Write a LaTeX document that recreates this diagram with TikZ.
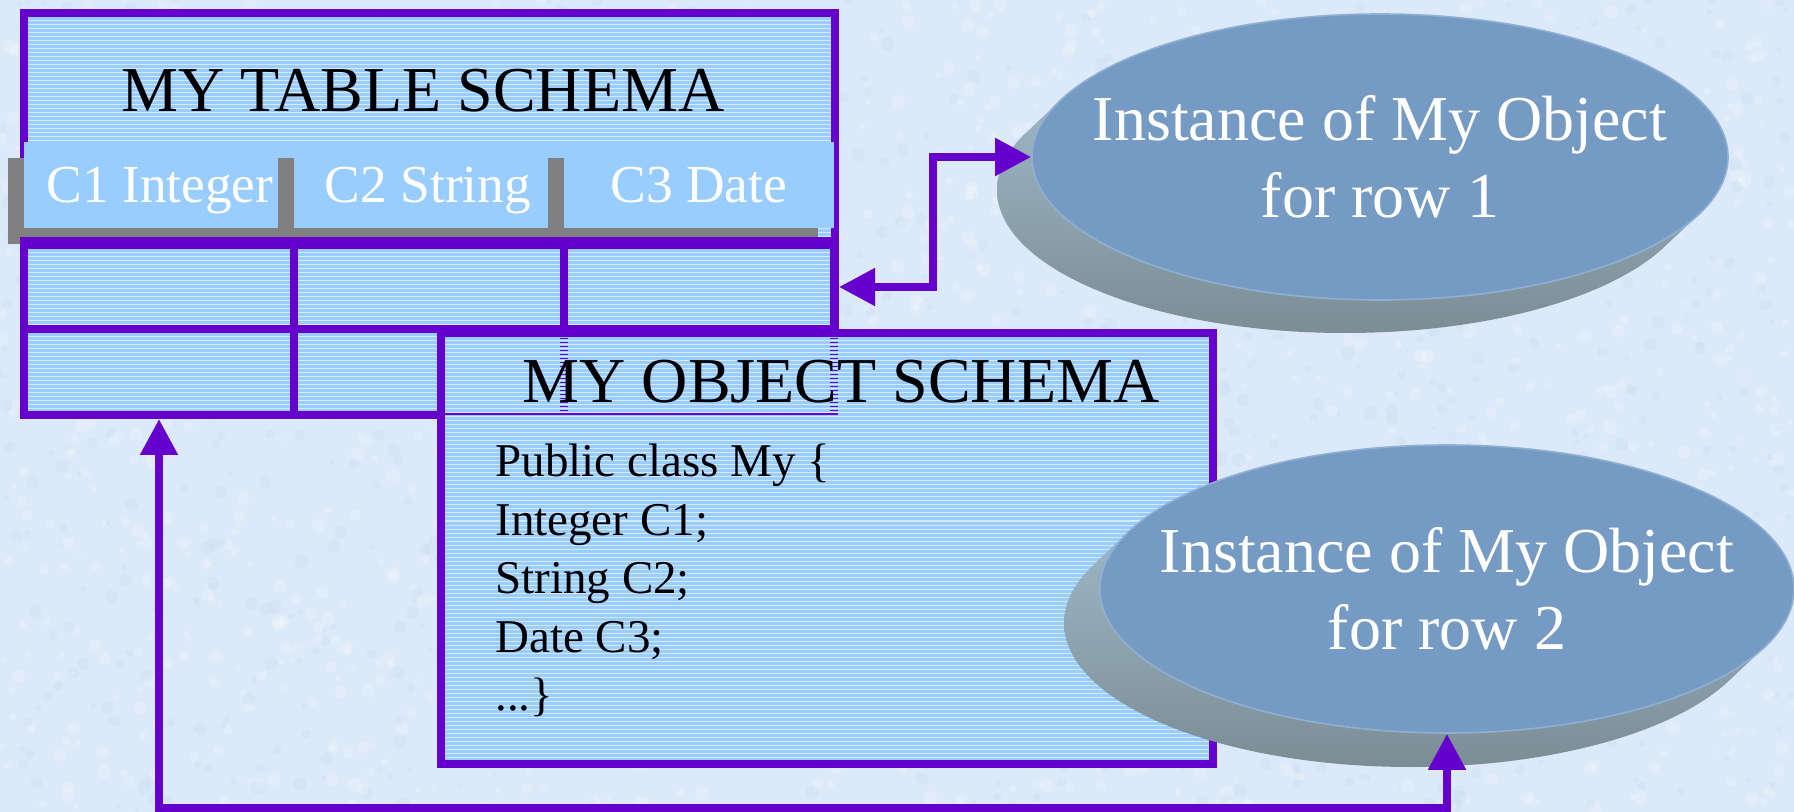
\documentclass[tikz,border=0pt]{standalone}
\usepackage{fontspec}
\setmainfont{Liberation Serif}
\usetikzlibrary{arrows.meta,shapes.geometric,shadows}

\definecolor{schemapurple}{HTML}{6600CC}
\definecolor{cellblue}{HTML}{99CCFF}
\definecolor{shadowgray}{HTML}{808080}
\definecolor{paper}{HTML}{DCE9F8}
\definecolor{paperdark}{HTML}{C2DAF3}
\definecolor{disctop}{HTML}{759AC4}
\definecolor{discrim}{HTML}{8FB0D3}
\definecolor{sidelight}{HTML}{AAC6D7}
\definecolor{sidedark}{HTML}{7B8D95}

\tikzset{
  stripes/.style={path picture={
    \foreach \k in {1,...,115}
      \draw[white, line width=0.5pt, opacity=0.6]
        ([yshift={-2pt*\k}]path picture bounding box.north west) --
        ([yshift={-2pt*\k}]path picture bounding box.north east);}},
  schemabox/.style={rectangle, draw=schemapurple, line width=4pt,
    fill=cellblue, stripes, inner sep=0pt},
  gridcell/.style={rectangle, draw=schemapurple, line width=4pt,
    inner sep=0pt, minimum width=135pt},
  hdrcell/.style={rectangle, fill=cellblue, inner sep=0pt, minimum height=43pt,
    drop shadow={shadow xshift=-8pt, shadow yshift=-8pt,
      fill=shadowgray, opacity=1}},
  hdrtext/.style={anchor=base, inner sep=0pt, text=white,
    font=\fontsize{26.7}{32}\selectfont},
  titletext/.style={anchor=base, inner sep=0pt, font=\fontsize{32}{38}\selectfont},
  codeline/.style={anchor=base west, inner sep=0pt, font=\fontsize{23.5}{28}\selectfont},
  disc/.style={ellipse, fill=disctop, draw=discrim, line width=0.8pt, inner sep=0pt},
  disctext/.style={align=center, text=white, inner sep=0pt,
    font=\fontsize{32}{38.5}\selectfont},
  discside/.style={top color=sidelight, middle color=sidelight!75!sidedark,
    bottom color=sidedark},
  conn/.style={draw=schemapurple, line width=4pt,
    arrows={Triangle[length=18pt,width=18pt]-Triangle[length=18pt,width=18pt]}},
}

\begin{document}
\begin{tikzpicture}[x=0.5pt, y=-0.5pt]
\useasboundingbox (0,0) rectangle (1794,812);

% paper background with a soft mottled texture
\begin{scope}
  \clip (0,0) rectangle (1794,812);
  \fill[paper] (0,0) rectangle (1794,812);
  \pgfmathsetseed{42}
  \foreach \i in {1,...,1500} {
    \pgfmathsetmacro\bx{1794*rnd}
    \pgfmathsetmacro\by{812*rnd}
    \pgfmathsetmacro\br{1+2.5*rnd}
    \fill[white, opacity=0.22] (\bx,\by) circle (\br pt);
  }
  \foreach \i in {1,...,1000} {
    \pgfmathsetmacro\bx{1794*rnd}
    \pgfmathsetmacro\by{812*rnd}
    \pgfmathsetmacro\br{1+2.5*rnd}
    \fill[paperdark, opacity=0.25] (\bx,\by) circle (\br pt);
  }
\end{scope}

% table schema
\node[schemabox, minimum width=405.5pt, minimum height=201pt] (table) at (429.5,214) {};
\node[gridcell, minimum height=42pt] (r1c1) at (159,287) {};
\node[gridcell, minimum height=42pt] (r1c2) at (429,287) {};
\node[gridcell, minimum height=42pt] (r1c3) at (699,287) {};
\node[gridcell, minimum height=43pt] (r2c1) at (159,372) {};
\node[gridcell, minimum height=43pt] (r2c2) at (429,372) {};
\node[gridcell, minimum height=43pt] (r2c3) at (699,372) {};

\node[titletext] (tabletitle) at (423,112) {MY TABLE SCHEMA};

% column header band with shadowed cells
\fill[shadowgray] (8,158) rectangle (818,244);
\fill[cellblue] (24,142) rectangle (834,228);
\node[hdrcell, minimum width=127pt] (hdr1) at (151,185) {};
\node[hdrcell, minimum width=127pt] (hdr2) at (421,185) {};
\node[hdrcell, minimum width=135pt] (hdr3) at (699,185) {};
\draw[schemapurple, line width=4pt] (table.west |- r1c1.north) -- (table.east |- r1c3.north);
\node[hdrtext] (hdr1text) at (160,203) {C1 Integer};
\node[hdrtext] (hdr2text) at (428,203) {C2 String};
\node[hdrtext] (hdr3text) at (699,203) {C3 Date};

% object schema
\node[schemabox, minimum width=386pt, minimum height=215.5pt] (object) at (827,548.5) {};
\draw[schemapurple, line width=4pt, dash pattern=on 0.5pt off 1.5pt] (564,338) -- (564,412);
\draw[schemapurple, line width=4pt, dash pattern=on 0.5pt off 1.5pt] (834,338) -- (834,412);
\draw[schemapurple, line width=1pt] (445,414) -- (838,414);

\node[titletext] (objtitle) at (841,403) {MY OBJECT SCHEMA};
\node[codeline] (code1) at (495,477) {Public class My \{};
\node[codeline] (code2) at (495,535) {Integer C1;};
\node[codeline] (code3) at (495,593) {String C2;};
\node[codeline] (code4) at (495,652) {Date C3;};
\node[codeline] (code5) at (495,710) {...\}};

% object instances
\shade[discside] \foreach \t in {0,...,16} {
  ({1380-35*\t/16},{157+33*\t/16}) ellipse [x radius=174pt, y radius=71.5pt] };
\node[disc, minimum width=348pt, minimum height=143pt] (inst1) at (1380,157) {};
\node[disctext] (inst1text) at (inst1.center) {Instance of My Object\\for row 1};

\shade[discside] \foreach \t in {0,...,16} {
  ({1447-36*\t/16},{589+34*\t/16}) ellipse [x radius=173.5pt, y radius=72pt] };
\node[disc, minimum width=347pt, minimum height=144pt] (inst2) at (1447,589) {};
\node[disctext] (inst2text) at (inst2.center) {Instance of My Object\\for row 2};

% mapping connectors
\coordinate (runline) at (0,808);
\draw[conn] (table.east |- r1c3.center) -- ++(94,0) |- (inst1.west);
\draw[conn] (r2c1.center |- table.south) -- (r2c1.center |- runline) -| (inst2.south);
\end{tikzpicture}
\end{document}
